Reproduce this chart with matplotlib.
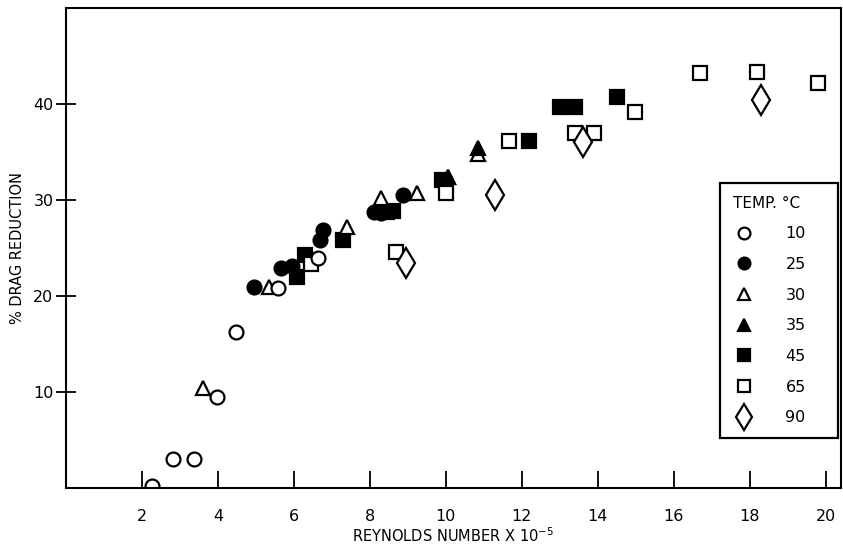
import matplotlib
matplotlib.use('Agg')
import matplotlib.pyplot as plt

# Drag reduction vs Reynolds number (x 1e-5), by temperature (deg C)
x10 = [2.26, 2.82, 3.37, 3.97, 4.47, 5.58, 6.63]
y10 = [0.2, 3.0, 3.0, 9.5, 16.25, 20.8, 24.0]

x25 = [4.95, 5.66, 5.95, 6.68, 6.76, 8.1, 8.3, 8.87]
y25 = [20.9, 22.9, 23.1, 25.8, 26.9, 28.7, 28.6, 30.5]

x30 = [3.6, 5.34, 7.4, 8.3, 9.24, 10.05, 10.85]
y30 = [10.4, 20.9, 27.2, 30.2, 30.7, 32.4, 34.8]

x35 = [10.05, 10.85]
y35 = [32.4, 35.4]

x45 = [6.08, 6.29, 7.29, 8.45, 8.6, 9.9, 12.2, 13.0, 13.4, 14.5]
y45 = [22.0, 24.3, 25.8, 28.7, 28.9, 32.1, 36.1, 39.7, 39.7, 40.7]

x65 = [6.45, 8.68, 10.0, 11.66, 13.4, 13.9, 14.97, 16.7, 18.2, 19.8]
y65 = [23.3, 24.6, 30.7, 36.1, 37.0, 37.0, 39.2, 43.2, 43.3, 42.2]

x90 = [8.95, 11.3, 13.6, 18.3]
y90 = [23.4, 30.5, 36.0, 40.4]

fig = plt.figure(figsize=(8.43, 5.48), dpi=100)
ax = fig.add_axes([66/843, 60/548, 775/843, 480/548])

ms = 9.5
mew = 1.6
ax.plot(x45, y45, 's', ms=ms, mfc='black', mec='black', mew=mew, label='45', ls='none')
ax.plot(x25, y25, 'o', ms=ms + 0.5, mfc='black', mec='black', mew=mew, label='25', ls='none')
ax.plot(x65, y65, 's', ms=ms, mfc='white', mec='black', mew=mew, label='65', ls='none')
ax.plot(x30, y30, '^', ms=ms + 1, mfc='white', mec='black', mew=mew, label='30', ls='none')
ax.plot(x35, y35, '^', ms=ms + 1, mfc='black', mec='black', mew=mew, label='35', ls='none')
ax.plot(x10, y10, 'o', ms=ms + 0.5, mfc='white', mec='black', mew=mew, label='10', ls='none')
ax.plot(x90, y90, 'd', ms=ms + 5.5, mfc='white', mec='black', mew=mew, label='90', ls='none')

ax.set_xlim(0, 20.4)
ax.set_ylim(0, 50)
ax.set_xticks([2, 4, 6, 8, 10, 12, 14, 16, 18, 20])
ax.set_yticks([10, 20, 30, 40])
ax.tick_params(axis='x', direction='in', length=12, width=1.3, labelsize=11.5, pad=15)
ax.tick_params(axis='y', direction='inout', length=14, width=1.3, labelsize=11.5, pad=2)
for s in ax.spines.values():
    s.set_linewidth(1.5)

ax.set_xlabel('REYNOLDS NUMBER X 10$^{-5}$', fontsize=10.5, labelpad=2)
ax.set_ylabel('% DRAG REDUCTION', fontsize=10.5, labelpad=6)

handles, labels = ax.get_legend_handles_labels()
order = ['10', '25', '30', '35', '45', '65', '90']
hl = sorted(zip(handles, labels), key=lambda t: order.index(t[1]))
x0 = (720 - 66) / 775
x1 = (838 - 66) / 775
ytop = (488 - 183) / 480
leg = ax.legend([h for h, l in hl], [l for h, l in hl], title='TEMP. °C',
                loc='upper left', bbox_to_anchor=(x0, ytop - 0.5, x1 - x0, 0.5),
                mode='expand', borderaxespad=0, fontsize=11.5, title_fontsize=11,
                frameon=True, fancybox=False, edgecolor='black', framealpha=1,
                handlelength=1.4, handletextpad=1.9, labelspacing=0.98,
                borderpad=0.8, markerscale=0.85, alignment='left')
leg.get_frame().set_linewidth(1.6)

fig.savefig('out.png', dpi=100)
